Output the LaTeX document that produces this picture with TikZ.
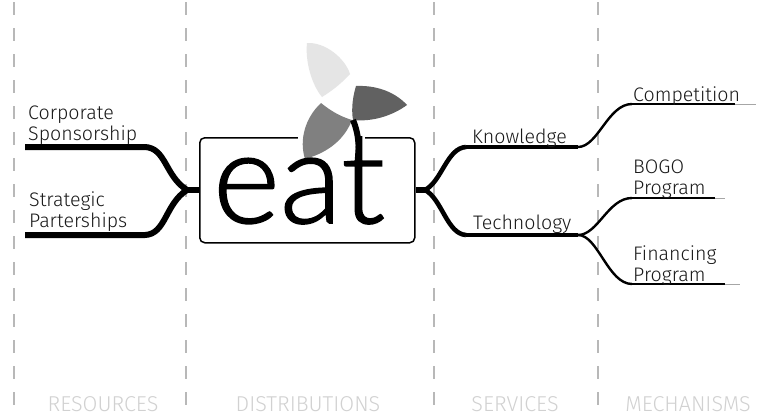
\documentclass[tikz,border=0pt]{standalone}
\usepackage{fontspec}
\setmainfont{Fira Sans Light}
\newfontfamily\eatfont[FakeBold=1.3]{Lato Light}
\usetikzlibrary{calc}
\definecolor{guide}{gray}{0.72}
\definecolor{capt}{gray}{0.82}
\tikzset{
  x=1pt,y=-1pt,
  guideline/.style={draw=guide,line width=1.2pt,dash pattern=on 13pt off 13pt},
  heavy/.style={draw=black,line width=6pt,line cap=butt},
  rootline/.style={draw=black,line width=4.6pt,line cap=butt},
  midline/.style={draw=black,line width=4pt,line cap=butt},
  lightline/.style={draw=black,line width=2.4pt,line cap=butt},
  hair/.style={draw=black,line width=1.4pt,line cap=butt},
  fadeend/.style={draw=black!35,line width=1pt},
  label/.style={anchor=base west,inner sep=0pt,align=left,font=\fontsize{19.6}{20.5}\selectfont,text=black!90},
  caption/.style={anchor=base,inner sep=0pt,text=capt,font=\fontsize{21.5}{24}\selectfont},
  eatbox/.style={draw=black,line width=1.5pt,rounded corners=5pt,fill=white,anchor=north west,inner sep=0pt,minimum width=215pt,minimum height=105pt},
  petal/.style={draw=none},
}
\begin{document}
\begin{tikzpicture}
\useasboundingbox (0,0) rectangle (774,418);
\fill[white] (0,0) rectangle (774,418);
% column guides
\foreach \gx in {14,186,434,598}{
  \coordinate (gt\gx) at (\gx,2);
  \coordinate (gb\gx) at (\gx,416);
  \draw[guideline] (gt\gx) -- (gb\gx);
}
% box
\node[eatbox] (box) at (199,137) {};
% white break in the box top edge
\fill[white] (298,134) rectangle (365,141);
% petals
\fill[black!10,petal] (307,43) .. controls (325,42) and (345,58) .. (350,74) .. controls (340,85) and (330,92) .. (322,97) .. controls (312,85) and (305,62) .. (307,43) -- cycle;
\fill[black!62,petal] (353,120) .. controls (351,108) and (353,96) .. (356,86) .. controls (378,85) and (396,93) .. (407,105) .. controls (392,116) and (372,122) .. (353,120) -- cycle;
\fill[black!50,petal] (352,120) .. controls (345,138) and (330,152) .. (305,159) .. controls (299,140) and (305,118) .. (321,103) .. controls (332,112) and (342,117) .. (352,120) -- cycle;
% t stem top
\draw[draw=black,line width=6pt] (359,162) .. controls (359,142) and (358,132) .. (353,120);
\node[anchor=base,inner sep=0pt,font=\eatfont\fontsize{128}{128}\selectfont,text=black] (eat) at (299,223) {eat};
% connectors left
\coordinate (sp) at (25,147);
\coordinate (sa) at (145,147);
\coordinate (pa) at (25,235);
\coordinate (pb) at (145,235);
\coordinate (lj) at (187,190);
\draw[heavy] (sp) -- (sa) .. controls (166,148) and (165,176) .. (lj);
\draw[heavy] (pa) -- (pb) .. controls (166,234) and (165,204) .. (lj);
\draw[heavy] (lj) -- (box.west |- lj);
% connectors right
\coordinate (rj) at (425,190);
\coordinate (ka) at (466,147);
\coordinate (kb) at (578,147);
\coordinate (ta) at (466,235);
\coordinate (tb) at (578,235);
\coordinate (ca) at (632,104);
\coordinate (cb) at (735,104);
\coordinate (cc) at (756,104);
\coordinate (ba) at (632,198);
\coordinate (bb) at (715,198);
\coordinate (bc) at (725,198);
\coordinate (fa) at (632,284);
\coordinate (fb) at (725,284);
\coordinate (fc) at (740,284);
\draw[heavy] (box.east |- rj) -- (rj);
\draw[rootline] (rj) .. controls (442,181) and (447,148) .. (ka);
\draw[rootline] (rj) .. controls (442,199) and (447,234) .. (ta);
\draw[midline] (ka) -- (kb);
\draw[midline] (ta) -- (tb);
\draw[lightline] (kb) .. controls (598,147) and (608,104) .. (ca);
\draw[lightline] (tb) .. controls (598,235) and (608,198) .. (ba);
\draw[lightline] (tb) .. controls (598,235) and (608,284) .. (fa);
\draw[hair] (ca) -- (cb);
\draw[hair] (ba) -- (bb);
\draw[hair] (fa) -- (fb);
\draw[fadeend] (cb) -- (cc);
\draw[fadeend] (bb) -- (bc);
\draw[fadeend] (fb) -- (fc);
% labels
\node[label] (l1) at (28,140) {Corporate\\Sponsorship};
\node[label] (l2) at (29,227) {Strategic\\Parterships};
\node[label] (l3) at (472,143) {Knowledge};
\node[label] (l4) at (473,229) {Technology};
\node[label] (l5) at (633,101) {Competition};
\node[label] (l6) at (633,194) {BOGO\\Program};
\node[label] (l7) at (633,281) {Financing\\Program};
% captions
\node[caption] (c1) at (103,411) {RESOURCES};
\node[caption] (c2) at (308,411) {DISTRIBUTIONS};
\node[caption] (c3) at (515,411) {SERVICES};
\node[caption] (c4) at (688,411) {MECHANISMS};
\end{tikzpicture}
\end{document}
